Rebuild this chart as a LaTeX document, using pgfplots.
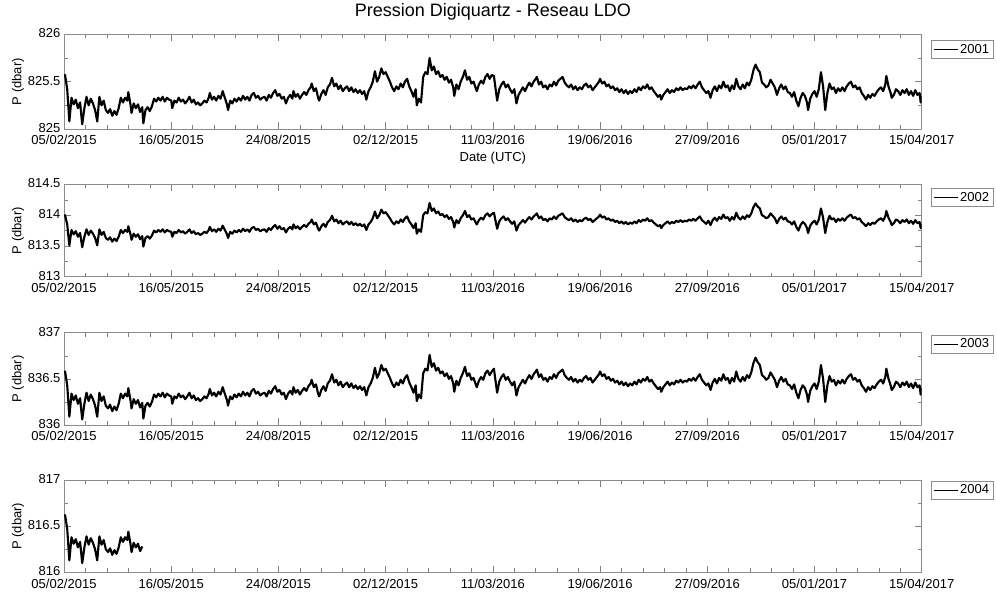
\documentclass[border=0pt]{standalone}
\usepackage{fontspec}
\setmainfont{Liberation Sans}
\usepackage{pgfplots}
\usepackage{pgfplotstable}
\pgfplotsset{compat=1.18}

% Digiquartz pressure (dbar), days since 05/02/2015
% p1: station 2001, p2: station 2002, p3: station 2003
\pgfplotstableread{
d p1 p2 p3
0 825.55 813.98 836.56
1 825.57 814.00 836.58
3 825.42 813.85 836.43
5 825.08 813.51 836.09
7 825.33 813.76 836.34
9 825.26 813.69 836.27
11 825.31 813.74 836.32
13 825.22 813.65 836.23
15 825.28 813.71 836.29
17 825.05 813.48 836.06
19 825.22 813.65 836.23
21 825.34 813.77 836.35
23 825.25 813.68 836.26
25 825.32 813.75 836.33
27 825.27 813.70 836.28
29 825.20 813.63 836.21
31 825.08 813.51 836.09
33 825.34 813.77 836.35
35 825.25 813.68 836.26
37 825.30 813.73 836.31
39 825.20 813.63 836.21
41 825.17 813.60 836.18
43 825.21 813.64 836.22
45 825.14 813.57 836.15
47 825.19 813.62 836.20
49 825.15 813.58 836.16
51 825.22 813.65 836.23
53 825.33 813.76 836.34
55 825.28 813.71 836.29
57 825.33 813.76 836.34
59 825.30 813.73 836.31
60 825.39 813.82 836.40
62 825.26 813.69 836.27
63 825.17 813.60 836.18
65 825.27 813.70 836.28
67 825.22 813.65 836.23
69 825.26 813.69 836.27
71 825.18 813.61 836.19
73 825.23 813.66 836.24
74 825.06 813.49 836.07
76 825.20 813.63 836.21
78 825.23 813.66 836.24
80 825.19 813.62 836.20
82 825.24 813.67 836.25
84 825.32 813.75 836.33
86 825.29 813.72 836.30
88 825.33 813.76 836.34
90 825.30 813.73 836.31
92 825.34 813.77 836.35
94 825.29 813.72 836.30
96 825.33 813.76 836.34
98 825.31 813.74 836.32
100 825.30 813.73 836.31
101 825.22 813.65 836.23
103 825.30 813.73 836.31
105 825.28 813.71 836.29
107 825.33 813.76 836.34
109 825.29 813.72 836.30
111 825.31 813.74 836.32
113 825.27 813.70 836.28
115 825.30 813.73 836.31
117 825.34 813.77 836.35
119 825.28 813.71 836.29
121 825.31 813.74 836.32
123 825.26 813.69 836.27
125 825.28 813.71 836.29
127 825.25 813.68 836.26
129 825.27 813.70 836.28
131 825.30 813.73 836.31
133 825.28 813.71 836.29
135 825.33 813.76 836.34
136 825.38 813.81 836.39
138 825.31 813.74 836.32
140 825.34 813.77 836.35
142 825.30 813.73 836.31
144 825.35 813.78 836.36
146 825.32 813.75 836.33
148 825.40 813.83 836.41
150 825.33 813.76 836.34
152 825.26 813.69 836.27
153 825.20 813.63 836.21
155 825.30 813.73 836.31
157 825.27 813.70 836.28
159 825.32 813.75 836.33
161 825.29 813.72 836.30
163 825.33 813.76 836.34
165 825.30 813.73 836.31
167 825.35 813.78 836.36
169 825.31 813.74 836.32
171 825.34 813.77 836.35
173 825.30 813.73 836.31
175 825.36 813.79 836.37
177 825.38 813.81 836.39
179 825.33 813.76 836.34
181 825.35 813.78 836.36
183 825.31 813.74 836.32
185 825.33 813.76 836.34
187 825.34 813.77 836.35
189 825.30 813.73 836.31
191 825.36 813.79 836.37
193 825.33 813.76 836.34
195 825.38 813.81 836.39
197 825.41 813.84 836.42
199 825.35 813.78 836.36
201 825.37 813.82 836.38
203 825.32 813.77 836.33
205 825.34 813.79 836.35
207 825.27 813.72 836.28
209 825.33 813.78 836.34
211 825.36 813.81 836.37
213 825.32 813.77 836.33
214 825.40 813.85 836.41
216 825.34 813.79 836.35
218 825.37 813.82 836.38
220 825.32 813.77 836.33
222 825.36 813.81 836.37
224 825.39 813.84 836.40
226 825.36 813.81 836.37
228 825.41 813.86 836.42
230 825.44 813.89 836.45
231 825.48 813.93 836.49
233 825.40 813.85 836.41
235 825.43 813.88 836.44
237 825.33 813.78 836.34
238 825.30 813.75 836.31
240 825.37 813.82 836.38
242 825.41 813.86 836.42
244 825.36 813.81 836.37
246 825.44 813.89 836.45
248 825.47 813.92 836.48
250 825.54 813.99 836.55
252 825.45 813.90 836.46
254 825.48 813.93 836.49
256 825.42 813.87 836.43
258 825.46 813.91 836.47
260 825.40 813.85 836.41
262 825.43 813.88 836.44
264 825.45 813.90 836.46
266 825.40 813.85 836.41
268 825.44 813.89 836.45
270 825.39 813.84 836.40
272 825.42 813.87 836.43
274 825.38 813.83 836.39
276 825.41 813.86 836.42
278 825.37 813.82 836.38
280 825.40 813.85 836.41
282 825.31 813.76 836.32
284 825.40 813.85 836.41
286 825.44 813.89 836.45
288 825.50 813.95 836.51
290 825.61 814.06 836.62
292 825.50 813.95 836.51
294 825.55 814.00 836.56
296 825.64 814.09 836.65
298 825.58 814.03 836.59
300 825.60 814.05 836.61
302 825.55 814.00 836.56
304 825.50 813.95 836.51
306 825.44 813.89 836.45
308 825.40 813.85 836.41
310 825.45 813.90 836.46
312 825.42 813.87 836.43
314 825.48 813.93 836.49
316 825.44 813.89 836.45
318 825.50 813.95 836.51
320 825.53 813.98 836.54
322 825.45 813.90 836.46
324 825.40 813.85 836.41
326 825.34 813.79 836.35
328 825.42 813.87 836.43
329 825.25 813.70 836.26
331 825.32 813.77 836.33
333 825.28 813.73 836.29
335 825.55 814.00 836.56
337 825.60 814.05 836.61
339 825.58 814.03 836.59
341 825.75 814.20 836.76
343 825.62 814.07 836.63
345 825.66 814.11 836.67
347 825.58 814.03 836.59
349 825.61 814.06 836.62
351 825.55 814.00 836.56
353 825.57 814.02 836.58
355 825.52 813.97 836.53
357 825.55 814.00 836.56
359 825.49 813.94 836.50
361 825.52 813.97 836.53
363 825.44 813.89 836.45
364 825.35 813.80 836.36
366 825.47 813.92 836.48
368 825.42 813.87 836.43
370 825.50 813.95 836.51
372 825.55 814.00 836.56
374 825.62 814.07 836.63
376 825.52 813.97 836.53
378 825.55 814.00 836.56
380 825.48 813.93 836.49
382 825.50 813.95 836.51
384 825.43 813.88 836.44
385 825.40 813.85 836.41
387 825.47 813.92 836.48
389 825.51 813.96 836.52
391 825.48 813.93 836.49
393 825.55 814.00 836.56
395 825.58 814.03 836.59
397 825.53 813.98 836.54
399 825.57 814.02 836.58
401 825.56 814.04 836.61
402 825.47 813.95 836.52
404 825.30 813.78 836.35
406 825.42 813.90 836.47
408 825.47 813.95 836.52
410 825.50 813.98 836.55
412 825.44 813.92 836.49
414 825.47 813.95 836.52
416 825.42 813.90 836.47
418 825.38 813.86 836.43
420 825.42 813.90 836.47
422 825.27 813.75 836.32
424 825.36 813.84 836.41
426 825.40 813.88 836.45
428 825.44 813.92 836.49
430 825.40 813.88 836.45
432 825.45 813.93 836.50
434 825.49 813.97 836.54
436 825.45 813.93 836.50
438 825.50 813.98 836.55
440 825.53 814.01 836.58
441 825.55 814.03 836.60
443 825.47 813.95 836.52
445 825.50 813.98 836.55
447 825.44 813.92 836.49
449 825.46 813.94 836.51
451 825.42 813.90 836.47
453 825.47 813.95 836.52
455 825.45 813.93 836.50
457 825.50 813.98 836.55
459 825.46 813.94 836.51
461 825.51 813.99 836.56
463 825.53 814.01 836.58
465 825.55 814.03 836.60
467 825.49 813.97 836.54
469 825.46 813.94 836.51
471 825.44 813.92 836.49
473 825.47 813.95 836.52
475 825.42 813.90 836.47
477 825.45 813.93 836.50
479 825.41 813.89 836.46
481 825.44 813.92 836.49
483 825.42 813.90 836.47
485 825.46 813.94 836.51
487 825.48 813.96 836.53
489 825.44 813.92 836.49
491 825.46 813.94 836.51
493 825.41 813.89 836.46
495 825.44 813.92 836.49
497 825.47 813.95 836.52
499 825.50 813.98 836.55
500 825.53 814.01 836.58
502 825.48 813.96 836.53
504 825.50 813.98 836.55
506 825.45 813.93 836.50
508 825.47 813.95 836.52
510 825.43 813.91 836.48
512 825.45 813.93 836.50
514 825.41 813.89 836.46
516 825.43 813.91 836.48
518 825.39 813.87 836.44
520 825.42 813.90 836.47
522 825.38 813.86 836.43
524 825.41 813.89 836.46
526 825.37 813.85 836.42
528 825.40 813.88 836.45
530 825.38 813.86 836.43
532 825.42 813.90 836.47
534 825.39 813.87 836.44
536 825.44 813.92 836.49
538 825.41 813.89 836.46
540 825.45 813.93 836.50
542 825.43 813.91 836.48
544 825.47 813.95 836.52
546 825.42 813.90 836.47
548 825.44 813.92 836.49
550 825.40 813.88 836.45
552 825.37 813.85 836.42
554 825.34 813.82 836.39
556 825.36 813.84 836.41
557 825.31 813.79 836.36
559 825.36 813.84 836.41
561 825.39 813.87 836.44
563 825.42 813.90 836.47
565 825.38 813.86 836.43
567 825.41 813.89 836.46
569 825.39 813.87 836.44
571 825.43 813.91 836.48
573 825.41 813.89 836.46
575 825.44 813.92 836.49
577 825.41 813.89 836.46
579 825.43 813.91 836.48
581 825.42 813.90 836.47
583 825.45 813.93 836.50
585 825.43 813.91 836.48
587 825.46 813.94 836.51
589 825.43 813.91 836.48
591 825.47 813.95 836.52
593 825.50 813.98 836.55
595 825.44 813.92 836.49
597 825.41 813.89 836.46
599 825.38 813.86 836.43
601 825.40 813.91 836.45
603 825.33 813.84 836.38
605 825.41 813.92 836.46
607 825.45 813.96 836.50
609 825.40 813.91 836.45
611 825.46 813.97 836.51
613 825.43 813.94 836.48
615 825.50 814.01 836.55
617 825.44 813.95 836.49
619 825.46 813.97 836.51
621 825.40 813.91 836.45
623 825.46 813.97 836.51
625 825.42 813.93 836.47
627 825.53 814.04 836.58
629 825.45 813.96 836.50
631 825.42 813.93 836.47
633 825.47 813.98 836.52
635 825.43 813.94 836.48
637 825.49 814.00 836.54
639 825.46 813.97 836.51
641 825.52 814.03 836.57
643 825.62 814.13 836.67
645 825.68 814.19 836.73
647 825.63 814.14 836.68
649 825.60 814.11 836.65
651 825.49 814.00 836.54
653 825.47 813.98 836.52
655 825.44 813.95 836.49
657 825.46 813.97 836.51
659 825.52 814.03 836.57
661 825.48 813.99 836.53
663 825.44 813.95 836.49
665 825.36 813.87 836.41
667 825.43 813.94 836.48
669 825.47 813.98 836.52
671 825.42 813.93 836.47
673 825.45 813.96 836.50
675 825.39 813.90 836.44
677 825.38 813.89 836.43
679 825.34 813.85 836.39
681 825.39 813.90 836.44
683 825.30 813.81 836.35
685 825.24 813.75 836.29
687 825.33 813.84 836.38
689 825.38 813.89 836.43
691 825.35 813.86 836.40
693 825.28 813.79 836.33
694 825.20 813.71 836.25
696 825.32 813.83 836.37
698 825.37 813.88 836.42
700 825.40 813.91 836.45
702 825.34 813.85 836.39
704 825.42 813.93 836.47
706 825.60 814.11 836.65
708 825.45 813.96 836.50
710 825.20 813.71 836.25
712 825.38 813.89 836.43
714 825.48 813.99 836.53
716 825.42 813.93 836.47
718 825.44 813.95 836.49
720 825.38 813.89 836.43
722 825.43 813.94 836.48
724 825.40 813.91 836.45
726 825.44 813.95 836.49
728 825.40 813.91 836.45
730 825.45 813.96 836.50
732 825.48 813.99 836.53
734 825.50 814.01 836.55
736 825.44 813.95 836.49
738 825.46 813.97 836.51
740 825.42 813.93 836.47
742 825.44 813.95 836.49
744 825.38 813.89 836.43
746 825.35 813.86 836.40
748 825.31 813.82 836.36
750 825.36 813.87 836.41
752 825.33 813.84 836.38
754 825.37 813.88 836.42
756 825.35 813.86 836.40
758 825.39 813.90 836.44
760 825.42 813.93 836.47
762 825.44 813.95 836.49
764 825.40 813.91 836.45
766 825.47 813.98 836.52
767 825.56 814.07 836.61
769 825.45 813.96 836.50
771 825.38 813.89 836.43
772 825.33 813.84 836.38
774 825.36 813.87 836.41
776 825.42 813.93 836.47
778 825.40 813.91 836.45
780 825.36 813.87 836.41
782 825.41 813.92 836.46
784 825.38 813.89 836.43
786 825.42 813.93 836.47
788 825.36 813.87 836.41
790 825.40 813.91 836.45
792 825.35 813.86 836.40
794 825.41 813.92 836.46
796 825.36 813.87 836.41
798 825.38 813.89 836.43
799 825.28 813.79 836.33
800 825.35 813.86 836.40
}\presLDO

% station 2004 (record stops in April 2015)
\pgfplotstableread{
d p4
0 816.60
1 816.62
3 816.47
5 816.13
7 816.38
9 816.31
11 816.36
13 816.27
15 816.33
17 816.10
19 816.27
21 816.39
23 816.30
25 816.37
27 816.32
29 816.25
31 816.13
33 816.39
35 816.30
37 816.35
39 816.25
41 816.22
43 816.26
45 816.19
47 816.24
49 816.20
51 816.27
53 816.38
55 816.33
57 816.38
59 816.35
60 816.44
62 816.31
63 816.22
65 816.32
67 816.27
69 816.31
71 816.23
73 816.28
}\presD

\pgfplotsset{
  ldo/.style={
    scale only axis,
    width=643.3pt,
    height=69.2pt,
    xmin=0, xmax=800,
    xtick={0,100,...,800},
    xticklabels={05/02/2015,16/05/2015,24/08/2015,02/12/2015,11/03/2016,19/06/2016,27/09/2016,05/01/2017,15/04/2017},
    minor x tick num=4,
    minor y tick num=1,
    axis line style={black!45},
    tick style={color=black!50, line width=0.4pt},
    major tick length=5pt,
    minor tick length=3pt,
    tick label style={font=\fontsize{9.75}{11}\selectfont},
    xticklabel style={yshift=-1.2pt},
    yticklabel style={xshift=0.8pt, yshift=0.8pt},
    ylabel={P (dbar)},
    ylabel style={at={(axis description cs:-0.0536,0.5)}, anchor=center,
      font=\fontsize{9.75}{11}\selectfont},
    legend image code/.code={\draw[black, line width=0.9pt] (0pt,0pt) -- (18pt,0pt);},
    legend style={at={(1,1)}, anchor=north west, xshift=6.75pt,
      draw=black!45, font=\fontsize{9.75}{11}\selectfont,
      inner xsep=1.5pt, inner ysep=1pt, nodes={inner sep=1.5pt}},
  },
  pline/.style={black, line width=1.6pt, line join=round},
}

\begin{document}
\begin{tikzpicture}
\useasboundingbox (0,0) rectangle (747.75pt,446.25pt);

% 2001
\begin{axis}[ldo, at={(48pt,349.5pt)}, anchor=south west, height=71pt,
  ymin=825, ymax=826, ytick={825,825.5,826}, yticklabels={825,825.5,826},
  title={Pression Digiquartz - Reseau LDO},
  title style={at={(axis description cs:0.5,1)}, anchor=base, yshift=7.3pt,
    font=\fontsize{13.5}{15}\selectfont},
  xlabel={Date (UTC)},
  xlabel style={at={(axis description cs:0.5,0)}, anchor=base, yshift=-24.7pt,
    font=\fontsize{9.75}{11}\selectfont},
  legend style={yshift=-4.6pt}]
\addplot[pline] table[x=d, y=p1] {\presLDO};
\addlegendentry{2001}
\end{axis}

% 2002
\begin{axis}[ldo, at={(48pt,238.7pt)}, anchor=south west,
  ymin=813, ymax=814.5, ytick={813,813.5,814,814.5}, yticklabels={813,813.5,814,814.5},
  legend style={yshift=-2.9pt}]
\addplot[pline] table[x=d, y=p2] {\presLDO};
\addlegendentry{2002}
\end{axis}

% 2003
\begin{axis}[ldo, at={(48pt,127.5pt)}, anchor=south west,
  ymin=836, ymax=837, ytick={836,836.5,837}, yticklabels={836,836.5,837},
  legend style={yshift=-1.7pt}]
\addplot[pline] table[x=d, y=p3] {\presLDO};
\addlegendentry{2003}
\end{axis}

% 2004
\begin{axis}[ldo, at={(48pt,17pt)}, anchor=south west,
  ymin=816, ymax=817, ytick={816,816.5,817}, yticklabels={816,816.5,817},
  legend style={yshift=-0.75pt}]
\addplot[pline] table[x=d, y=p4] {\presD};
\addlegendentry{2004}
\end{axis}
\end{tikzpicture}
\end{document}
